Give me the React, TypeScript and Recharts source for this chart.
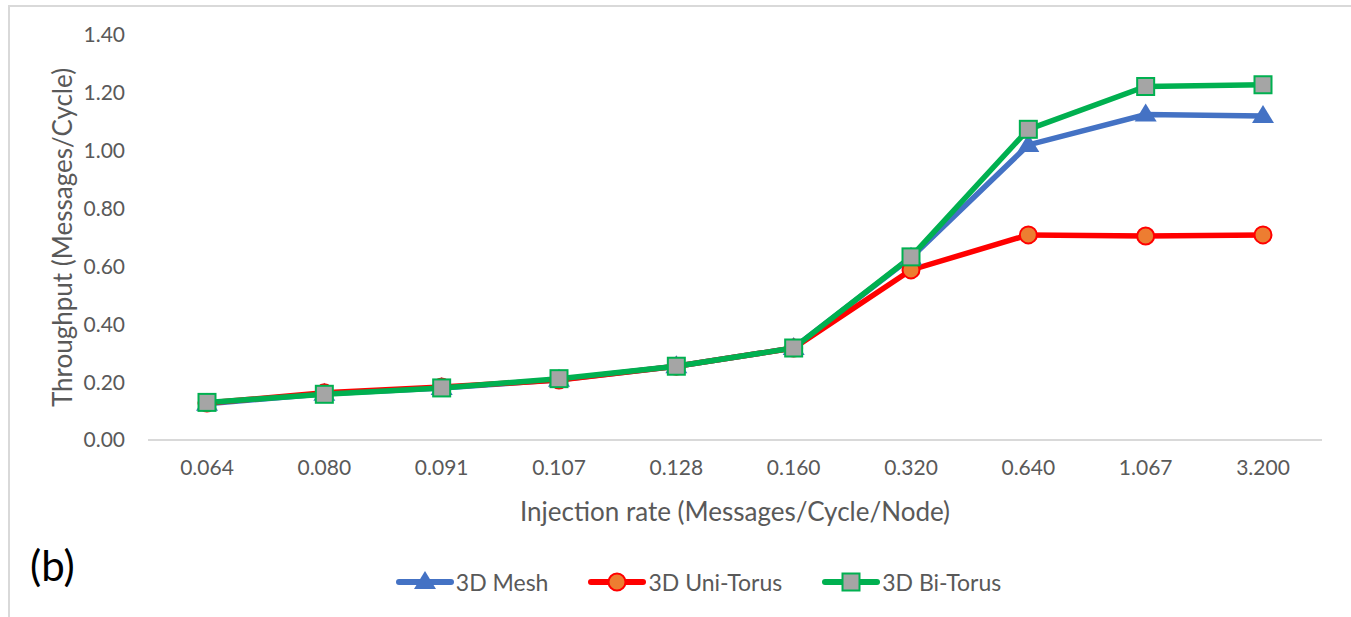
import React from 'react';
import {
  LineChart,
  Line,
  XAxis,
  YAxis,
  Legend,
} from 'recharts';

const rates = ['0.064', '0.080', '0.091', '0.107', '0.128', '0.160', '0.320', '0.640', '1.067', '3.200'];
const meshValues = [0.125, 0.16, 0.18, 0.208, 0.255, 0.318, 0.63, 1.02, 1.125, 1.12];
const uniTorusValues = [0.128, 0.163, 0.183, 0.207, 0.255, 0.318, 0.588, 0.709, 0.705, 0.709];
const biTorusValues = [0.13, 0.158, 0.18, 0.212, 0.255, 0.318, 0.633, 1.074, 1.222, 1.228];
const yTicks = [0, 0.2, 0.4, 0.6, 0.8, 1.0, 1.2, 1.4];

const chartData = rates.map((rate, i) => ({
  rate,
  mesh: meshValues[i],
  uni: uniTorusValues[i],
  bi: biTorusValues[i],
}));

const FONT = 'Lato, "Liberation Sans", sans-serif';
const TEXT = '#595959';

const MESH = '#4472C4';
const UNI = '#FF0000';
const BI = '#00B050';

// marker shapes
const Triangle = ({ cx, cy }: any) => {
  if (cx == null || cy == null) return null;
  return (
    <path
      d={`M${cx},${cy - 11} L${cx + 11},${cy + 7} L${cx - 11},${cy + 7} Z`}
      fill={MESH}
    />
  );
};

const Circle = ({ cx, cy }: any) => {
  if (cx == null || cy == null) return null;
  return <circle cx={cx} cy={cy} r={8.5} fill="#ED7D31" stroke={UNI} strokeWidth={2} />;
};

const Square = ({ cx, cy }: any) => {
  if (cx == null || cy == null) return null;
  return (
    <rect x={cx - 8.5} y={cy - 8.5} width={17} height={17} fill="#A5A5A5" stroke={BI} strokeWidth={2} />
  );
};

const series = [
  { key: 'mesh', name: '3D Mesh', color: MESH, Marker: Triangle },
  { key: 'uni', name: '3D Uni-Torus', color: UNI, Marker: Circle },
  { key: 'bi', name: '3D Bi-Torus', color: BI, Marker: Square },
];

const LegendContent = () => (
  <div
    style={{
      display: 'flex',
      justifyContent: 'center',
      alignItems: 'center',
      height: 30,
      fontFamily: FONT,
      fontSize: 23,
      color: TEXT,
      paddingLeft: 115,
    }}
  >
    {series.map(({ key, name, color, Marker }) => (
      <div key={key} style={{ display: 'flex', alignItems: 'center', marginRight: 40 }}>
        <svg width={58} height={24}>
          <line x1={3} y1={12} x2={55} y2={12} stroke={color} strokeWidth={6} strokeLinecap="round" />
          <Marker cx={29} cy={12} />
        </svg>
        <span style={{ marginLeft: 2 }}>{name}</span>
      </div>
    ))}
  </div>
);

const App: React.FC = () => {
  return (
    <div style={{ position: 'absolute', left: 0, top: 0, width: 1351, height: 617, background: '#fff', overflow: 'hidden' }}>
      <div
        style={{
          position: 'absolute',
          left: 8,
          top: 5,
          width: 1360,
          height: 640,
          border: '2px solid #D9D9D9',
        }}
      />
      <div
        style={{
          position: 'absolute',
          left: 30,
          top: 540,
          fontFamily: FONT,
          fontSize: 42,
          color: '#000',
        }}
      >
        (b)
      </div>
      <LineChart
        width={1351}
        height={617}
        data={chartData}
        margin={{ top: 35, right: 29, left: 0, bottom: 20 }}
      >
        <XAxis
          dataKey="rate"
          stroke="#D9D9D9"
          strokeWidth={2}
          padding={{ left: 59, right: 59 }}
          tickLine={false}
          tickSize={0}
          tickMargin={20}
          height={127}
          tick={{ fill: TEXT, fontSize: 21, fontFamily: FONT }}
          label={{
            content: ({ viewBox }: any) => (
              <text
                x={viewBox.x + viewBox.width / 2}
                y={viewBox.y + 81}
                textAnchor="middle"
                fill={TEXT}
                fontSize={26}
                fontFamily={FONT}
              >
                Injection rate (Messages/Cycle/Node)
              </text>
            ),
          }}
        />
        <YAxis
          domain={[0, 1.4]}
          ticks={yTicks}
          width={148}
          axisLine={false}
          tickLine={false}
          tickSize={0}
          tickMargin={23}
          tickFormatter={(v: number) => v.toFixed(2)}
          tick={{ fill: TEXT, fontSize: 21, fontFamily: FONT }}
          label={{
            content: ({ viewBox }: any) => {
              const x = viewBox.x + 62;
              const y = viewBox.y + viewBox.height / 2;
              return (
                <text
                  x={x}
                  y={y}
                  transform={`rotate(-90 ${x} ${y})`}
                  textAnchor="middle"
                  dominantBaseline="central"
                  fill={TEXT}
                  fontSize={26}
                  fontFamily={FONT}
                >
                  Throughput (Messages/Cycle)
                </text>
              );
            },
          }}
        />
        <Legend verticalAlign="bottom" height={30} content={<LegendContent />} />
        {series.map(({ key, name, color, Marker }) => (
          <Line
            key={key}
            dataKey={key}
            name={name}
            stroke={color}
            strokeWidth={5.5}
            dot={<Marker />}
            activeDot={false}
            isAnimationActive={false}
          />
        ))}
      </LineChart>
    </div>
  );
};

export default App;
